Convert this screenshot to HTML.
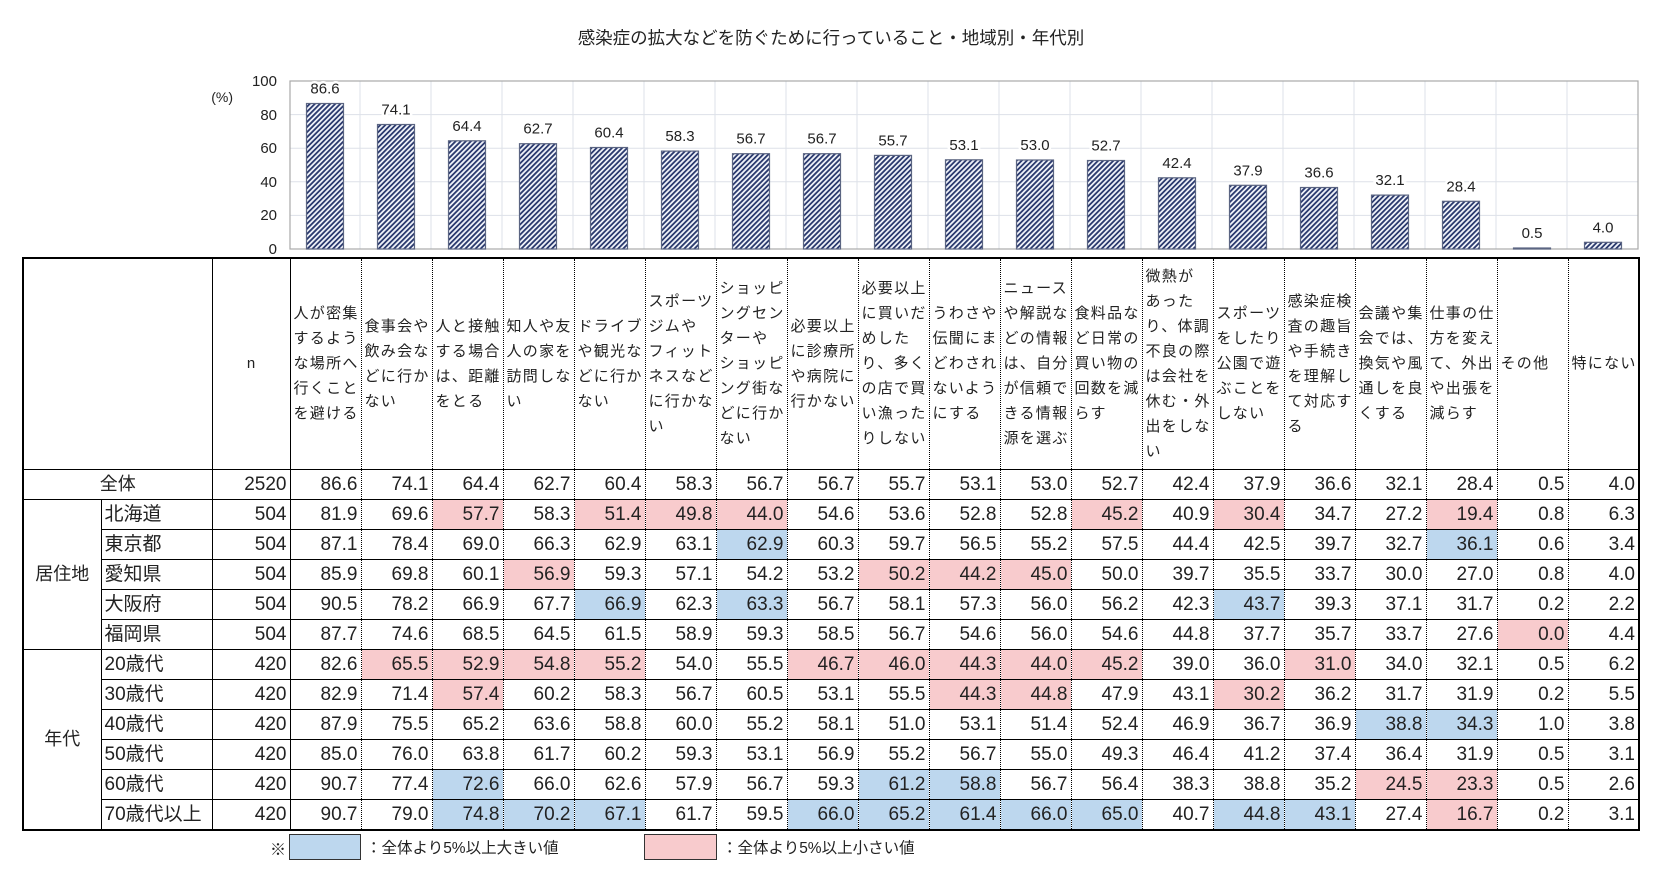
<!DOCTYPE html>
<html><head><meta charset="utf-8"><style>
body{margin:0;width:1662px;height:877px;background:#fff;position:relative;overflow:hidden;font-family:"Liberation Sans","Noto Sans CJK JP",sans-serif;color:#222}
#title{position:absolute;left:0;width:1662px;text-align:center;top:25px;font-size:17.5px;color:#222}
svg{position:absolute;left:0;top:0}
table{position:absolute;left:22px;top:257px;border-collapse:collapse;table-layout:fixed;width:1616px;border:2px solid #000}
td{padding:0;border:1px solid #000;overflow:hidden;white-space:nowrap}
tr.r td{height:29px;font-size:19px;line-height:29px}
td.v{text-align:right;padding-right:3px;border-left:1px dotted #000;border-right:1px dotted #000}
tr.d td{border-top:1px dotted #000}
td.h{vertical-align:middle;font-size:15px;line-height:25px;letter-spacing:1.3px;padding-left:3px;white-space:nowrap;border-left:1px dotted #000;border-right:1px dotted #000}
td.s{padding-left:3px;font-size:18px}
td.n{text-align:right;padding-right:3px}
.p{background:#f8cbcd}.b{background:#bdd7ee}
.leg{position:absolute;top:836px;font-size:15.5px}
</style></head><body>
<div id="title">感染症の拡大などを防ぐために行っていること・地域別・年代別</div>
<svg width="1662" height="260" viewBox="0 0 1662 260">
<defs><pattern id="hp" width="3.6" height="3.6" patternUnits="userSpaceOnUse" patternTransform="rotate(45)"><rect width="3.6" height="3.6" fill="#eef1f8"/><rect width="1.8" height="3.6" fill="#2b3a6e"/></pattern></defs>
<g stroke="#dde1e8" stroke-width="1">
<line x1="290" x2="1638" y1="215.4" y2="215.4"/><line x1="290" x2="1638" y1="181.8" y2="181.8"/><line x1="290" x2="1638" y1="148.2" y2="148.2"/><line x1="290" x2="1638" y1="114.6" y2="114.6"/>
<line x1="360" x2="360" y1="81" y2="249"/><line x1="431" x2="431" y1="81" y2="249"/><line x1="502" x2="502" y1="81" y2="249"/><line x1="573" x2="573" y1="81" y2="249"/><line x1="644" x2="644" y1="81" y2="249"/><line x1="715" x2="715" y1="81" y2="249"/><line x1="786" x2="786" y1="81" y2="249"/><line x1="857" x2="857" y1="81" y2="249"/><line x1="928" x2="928" y1="81" y2="249"/><line x1="999" x2="999" y1="81" y2="249"/><line x1="1070" x2="1070" y1="81" y2="249"/><line x1="1141" x2="1141" y1="81" y2="249"/><line x1="1212" x2="1212" y1="81" y2="249"/><line x1="1283" x2="1283" y1="81" y2="249"/><line x1="1354" x2="1354" y1="81" y2="249"/><line x1="1425" x2="1425" y1="81" y2="249"/><line x1="1496" x2="1496" y1="81" y2="249"/><line x1="1567" x2="1567" y1="81" y2="249"/>
</g>
<rect x="290" y="81" width="1348" height="168" fill="none" stroke="#a9a9a9" stroke-width="1.2"/>
<g fill="url(#hp)" stroke="#5b6582" stroke-width="1.2">
<rect x="306.5" y="103.5" width="37" height="145.5"/><rect x="377.5" y="124.5" width="37" height="124.5"/><rect x="448.5" y="140.8" width="37" height="108.2"/><rect x="519.5" y="143.7" width="37" height="105.3"/><rect x="590.5" y="147.5" width="37" height="101.5"/><rect x="661.5" y="151.1" width="37" height="97.9"/><rect x="732.5" y="153.7" width="37" height="95.3"/><rect x="803.5" y="153.7" width="37" height="95.3"/><rect x="874.5" y="155.4" width="37" height="93.6"/><rect x="945.5" y="159.8" width="37" height="89.2"/><rect x="1016.5" y="160" width="37" height="89"/><rect x="1087.5" y="160.5" width="37" height="88.5"/><rect x="1158.5" y="177.8" width="37" height="71.2"/><rect x="1229.5" y="185.3" width="37" height="63.7"/><rect x="1300.5" y="187.5" width="37" height="61.5"/><rect x="1371.5" y="195.1" width="37" height="53.9"/><rect x="1442.5" y="201.3" width="37" height="47.7"/><rect x="1513.5" y="248" width="37" height="1"/><rect x="1584.5" y="242.3" width="37" height="6.7"/>
</g>
<g font-size="15" text-anchor="middle" fill="#222" font-family="Liberation Sans, sans-serif" stroke="#fff" stroke-width="5" paint-order="stroke">
<text x="325" y="93.5">86.6</text><text x="396" y="114.5">74.1</text><text x="467" y="130.8">64.4</text><text x="538" y="133.7">62.7</text><text x="609" y="137.5">60.4</text><text x="680" y="141.1">58.3</text><text x="751" y="143.7">56.7</text><text x="822" y="143.7">56.7</text><text x="893" y="145.4">55.7</text><text x="964" y="149.8">53.1</text><text x="1035" y="150">53.0</text><text x="1106" y="150.5">52.7</text><text x="1177" y="167.8">42.4</text><text x="1248" y="175.3">37.9</text><text x="1319" y="177.5">36.6</text><text x="1390" y="185.1">32.1</text><text x="1461" y="191.3">28.4</text><text x="1532" y="238">0.5</text><text x="1603" y="232.3">4.0</text>
</g>
<g font-size="15" text-anchor="end" fill="#222" font-family="Liberation Sans, sans-serif">
<text x="277" y="254">0</text><text x="277" y="220">20</text><text x="277" y="187">40</text><text x="277" y="153">60</text><text x="277" y="120">80</text><text x="277" y="86">100</text>
<text x="233" y="102" font-size="14">(%)</text>
</g>
</svg>
<table>
<colgroup><col style="width:78px"><col style="width:111px"><col style="width:78px"><col span="19" style="width:71px"></colgroup>
<tr style="height:211px"><td colspan="2"></td><td style="text-align:center;font-size:15px">n</td>
<td class="h">人が密集<br>するよう<br>な場所へ<br>行くこと<br>を避ける</td>
<td class="h">食事会や<br>飲み会な<br>どに行か<br>ない</td>
<td class="h">人と接触<br>する場合<br>は、距離<br>をとる</td>
<td class="h">知人や友<br>人の家を<br>訪問しな<br>い</td>
<td class="h">ドライブ<br>や観光な<br>どに行か<br>ない</td>
<td class="h">スポーツ<br>ジムや<br>フィット<br>ネスなど<br>に行かな<br>い</td>
<td class="h">ショッピ<br>ングセン<br>ターや<br>ショッピ<br>ング街な<br>どに行か<br>ない</td>
<td class="h">必要以上<br>に診療所<br>や病院に<br>行かない</td>
<td class="h">必要以上<br>に買いだ<br>めした<br>り、多く<br>の店で買<br>い漁った<br>りしない</td>
<td class="h">うわさや<br>伝聞にま<br>どわされ<br>ないよう<br>にする</td>
<td class="h">ニュース<br>や解説な<br>どの情報<br>は、自分<br>が信頼で<br>きる情報<br>源を選ぶ</td>
<td class="h">食料品な<br>ど日常の<br>買い物の<br>回数を減<br>らす</td>
<td class="h">微熱が<br>あった<br>り、体調<br>不良の際<br>は会社を<br>休む・外<br>出をしな<br>い</td>
<td class="h">スポーツ<br>をしたり<br>公園で遊<br>ぶことを<br>しない</td>
<td class="h">感染症検<br>査の趣旨<br>や手続き<br>を理解し<br>て対応す<br>る</td>
<td class="h">会議や集<br>会では、<br>換気や風<br>通しを良<br>くする</td>
<td class="h">仕事の仕<br>方を変え<br>て、外出<br>や出張を<br>減らす</td>
<td class="h">その他</td>
<td class="h">特にない</td></tr>
<tr class="r"><td colspan="2" style="text-align:center;font-size:18px">全体</td><td class="n">2520</td><td class="v">86.6</td><td class="v">74.1</td><td class="v">64.4</td><td class="v">62.7</td><td class="v">60.4</td><td class="v">58.3</td><td class="v">56.7</td><td class="v">56.7</td><td class="v">55.7</td><td class="v">53.1</td><td class="v">53.0</td><td class="v">52.7</td><td class="v">42.4</td><td class="v">37.9</td><td class="v">36.6</td><td class="v">32.1</td><td class="v">28.4</td><td class="v">0.5</td><td class="v">4.0</td></tr>
<tr class="r"><td rowspan="5" style="text-align:center;font-size:18px">居住地</td><td class="s">北海道</td><td class="n">504</td><td class="v">81.9</td><td class="v">69.6</td><td class="v p">57.7</td><td class="v">58.3</td><td class="v p">51.4</td><td class="v p">49.8</td><td class="v p">44.0</td><td class="v">54.6</td><td class="v">53.6</td><td class="v">52.8</td><td class="v">52.8</td><td class="v p">45.2</td><td class="v">40.9</td><td class="v p">30.4</td><td class="v">34.7</td><td class="v">27.2</td><td class="v p">19.4</td><td class="v">0.8</td><td class="v">6.3</td></tr>
<tr class="r d"><td class="s">東京都</td><td class="n">504</td><td class="v">87.1</td><td class="v">78.4</td><td class="v">69.0</td><td class="v">66.3</td><td class="v">62.9</td><td class="v">63.1</td><td class="v b">62.9</td><td class="v">60.3</td><td class="v">59.7</td><td class="v">56.5</td><td class="v">55.2</td><td class="v">57.5</td><td class="v">44.4</td><td class="v">42.5</td><td class="v">39.7</td><td class="v">32.7</td><td class="v b">36.1</td><td class="v">0.6</td><td class="v">3.4</td></tr>
<tr class="r d"><td class="s">愛知県</td><td class="n">504</td><td class="v">85.9</td><td class="v">69.8</td><td class="v">60.1</td><td class="v p">56.9</td><td class="v">59.3</td><td class="v">57.1</td><td class="v">54.2</td><td class="v">53.2</td><td class="v p">50.2</td><td class="v p">44.2</td><td class="v p">45.0</td><td class="v">50.0</td><td class="v">39.7</td><td class="v">35.5</td><td class="v">33.7</td><td class="v">30.0</td><td class="v">27.0</td><td class="v">0.8</td><td class="v">4.0</td></tr>
<tr class="r d"><td class="s">大阪府</td><td class="n">504</td><td class="v">90.5</td><td class="v">78.2</td><td class="v">66.9</td><td class="v">67.7</td><td class="v b">66.9</td><td class="v">62.3</td><td class="v b">63.3</td><td class="v">56.7</td><td class="v">58.1</td><td class="v">57.3</td><td class="v">56.0</td><td class="v">56.2</td><td class="v">42.3</td><td class="v b">43.7</td><td class="v">39.3</td><td class="v">37.1</td><td class="v">31.7</td><td class="v">0.2</td><td class="v">2.2</td></tr>
<tr class="r d"><td class="s">福岡県</td><td class="n">504</td><td class="v">87.7</td><td class="v">74.6</td><td class="v">68.5</td><td class="v">64.5</td><td class="v">61.5</td><td class="v">58.9</td><td class="v">59.3</td><td class="v">58.5</td><td class="v">56.7</td><td class="v">54.6</td><td class="v">56.0</td><td class="v">54.6</td><td class="v">44.8</td><td class="v">37.7</td><td class="v">35.7</td><td class="v">33.7</td><td class="v">27.6</td><td class="v p">0.0</td><td class="v">4.4</td></tr>
<tr class="r"><td rowspan="6" style="text-align:center;font-size:18px">年代</td><td class="s">20歳代</td><td class="n">420</td><td class="v">82.6</td><td class="v p">65.5</td><td class="v p">52.9</td><td class="v p">54.8</td><td class="v p">55.2</td><td class="v">54.0</td><td class="v">55.5</td><td class="v p">46.7</td><td class="v p">46.0</td><td class="v p">44.3</td><td class="v p">44.0</td><td class="v p">45.2</td><td class="v">39.0</td><td class="v">36.0</td><td class="v p">31.0</td><td class="v">34.0</td><td class="v">32.1</td><td class="v">0.5</td><td class="v">6.2</td></tr>
<tr class="r d"><td class="s">30歳代</td><td class="n">420</td><td class="v">82.9</td><td class="v">71.4</td><td class="v p">57.4</td><td class="v">60.2</td><td class="v">58.3</td><td class="v">56.7</td><td class="v">60.5</td><td class="v">53.1</td><td class="v">55.5</td><td class="v p">44.3</td><td class="v p">44.8</td><td class="v">47.9</td><td class="v">43.1</td><td class="v p">30.2</td><td class="v">36.2</td><td class="v">31.7</td><td class="v">31.9</td><td class="v">0.2</td><td class="v">5.5</td></tr>
<tr class="r d"><td class="s">40歳代</td><td class="n">420</td><td class="v">87.9</td><td class="v">75.5</td><td class="v">65.2</td><td class="v">63.6</td><td class="v">58.8</td><td class="v">60.0</td><td class="v">55.2</td><td class="v">58.1</td><td class="v">51.0</td><td class="v">53.1</td><td class="v">51.4</td><td class="v">52.4</td><td class="v">46.9</td><td class="v">36.7</td><td class="v">36.9</td><td class="v b">38.8</td><td class="v b">34.3</td><td class="v">1.0</td><td class="v">3.8</td></tr>
<tr class="r d"><td class="s">50歳代</td><td class="n">420</td><td class="v">85.0</td><td class="v">76.0</td><td class="v">63.8</td><td class="v">61.7</td><td class="v">60.2</td><td class="v">59.3</td><td class="v">53.1</td><td class="v">56.9</td><td class="v">55.2</td><td class="v">56.7</td><td class="v">55.0</td><td class="v">49.3</td><td class="v">46.4</td><td class="v">41.2</td><td class="v">37.4</td><td class="v">36.4</td><td class="v">31.9</td><td class="v">0.5</td><td class="v">3.1</td></tr>
<tr class="r d"><td class="s">60歳代</td><td class="n">420</td><td class="v">90.7</td><td class="v">77.4</td><td class="v b">72.6</td><td class="v">66.0</td><td class="v">62.6</td><td class="v">57.9</td><td class="v">56.7</td><td class="v">59.3</td><td class="v b">61.2</td><td class="v b">58.8</td><td class="v">56.7</td><td class="v">56.4</td><td class="v">38.3</td><td class="v">38.8</td><td class="v">35.2</td><td class="v p">24.5</td><td class="v p">23.3</td><td class="v">0.5</td><td class="v">2.6</td></tr>
<tr class="r d"><td class="s">70歳代以上</td><td class="n">420</td><td class="v">90.7</td><td class="v">79.0</td><td class="v b">74.8</td><td class="v b">70.2</td><td class="v b">67.1</td><td class="v">61.7</td><td class="v">59.5</td><td class="v b">66.0</td><td class="v b">65.2</td><td class="v b">61.4</td><td class="v b">66.0</td><td class="v b">65.0</td><td class="v">40.7</td><td class="v b">44.8</td><td class="v b">43.1</td><td class="v">27.4</td><td class="v p">16.7</td><td class="v">0.2</td><td class="v">3.1</td></tr>
</table>
<div class="leg" style="left:270px;top:836px;font-size:16px">※</div>
<div style="position:absolute;left:289px;top:834px;width:70px;height:24px;background:#bdd7ee;border:1px solid #333"></div>
<div class="leg" style="left:366px">：全体より5%以上大きい値</div>
<div style="position:absolute;left:644px;top:834px;width:71px;height:24px;background:#f8cbcd;border:1px solid #333"></div>
<div class="leg" style="left:722px">：全体より5%以上小さい値</div>
</body></html>
